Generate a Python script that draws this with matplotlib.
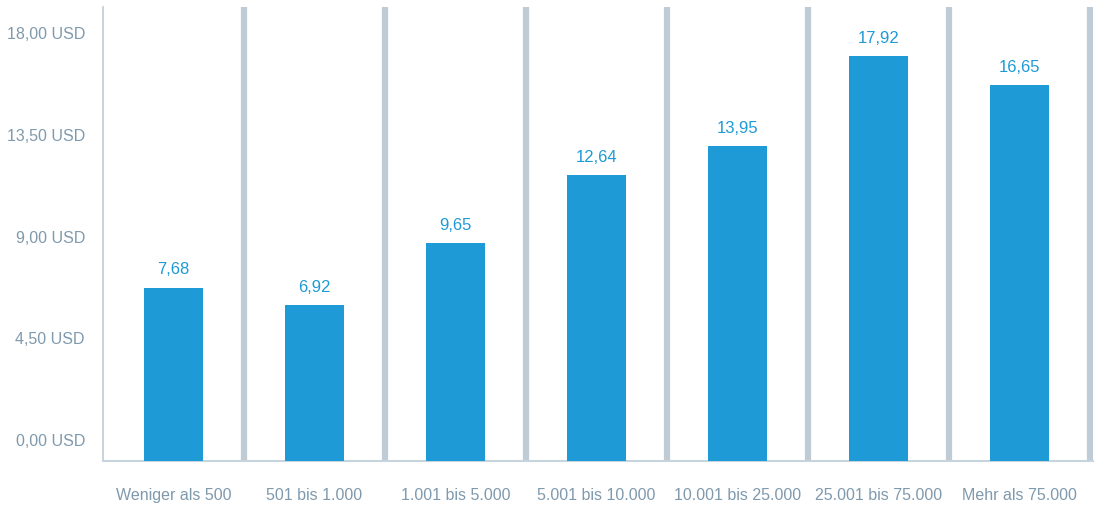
import matplotlib.pyplot as plt
from matplotlib.transforms import offset_copy

# Durchschnittswerte je Umsatzklasse
categories = [
    "Weniger als 500",
    "501 bis 1.000",
    "1.001 bis 5.000",
    "5.001 bis 10.000",
    "10.001 bis 25.000",
    "25.001 bis 75.000",
    "Mehr als 75.000",
]
values = [7.68, 6.92, 9.65, 12.64, 13.95, 17.92, 16.65]
y_ticks = [0, 4.5, 9, 13.5, 18]

bar_color = "#1e9ad6"
text_gray = "#7f99ad"
sep_color = "#bfccd6"

plt.rcParams["font.family"] = ["Liberation Sans", "DejaVu Sans"]

fig = plt.figure(figsize=(11.06, 5.06), dpi=100)
ax = fig.add_axes([103 / 1106, 1 - 462 / 506, 990 / 1106, 454 / 506])

x = list(range(len(categories)))
ax.bar(x, values, width=0.42, color=bar_color, zorder=3)

# Wertbeschriftungen über den Balken
for xi, v in zip(x, values):
    ax.annotate(f"{v:.2f}".replace(".", ","), (xi, v), xytext=(0, 8),
                textcoords="offset points", ha="center", va="bottom",
                fontsize=12, color=bar_color)

# breite Trennlinien zwischen den Kategorien
for i in range(len(categories)):
    ax.axvline(i + 0.5, color=sep_color, lw=4.5, zorder=1)

ax.set_xlim(-0.5, 6.52)
ax.set_ylim(0, 20.1)

ax.set_xticks(x)
ax.set_xticklabels(categories, fontsize=11.5, color=text_gray)
ax.tick_params(axis="x", length=0, pad=19)

ax.set_yticks(y_ticks)
ax.set_yticklabels([f"{t:.2f} USD".replace(".", ",") for t in y_ticks],
                   fontsize=11.5, color=text_gray)
ax.tick_params(axis="y", length=0, pad=13)
for lab in ax.get_yticklabels():
    lab.set_transform(offset_copy(lab.get_transform(), fig=fig, x=0, y=22, units="dots"))

for side in ["top", "right"]:
    ax.spines[side].set_visible(False)
ax.spines["left"].set_color(sep_color)
ax.spines["left"].set_linewidth(1.2)
ax.spines["bottom"].set_color("#c8d4dd")
ax.spines["bottom"].set_linewidth(1.5)

fig.savefig("out.png", dpi=100)
